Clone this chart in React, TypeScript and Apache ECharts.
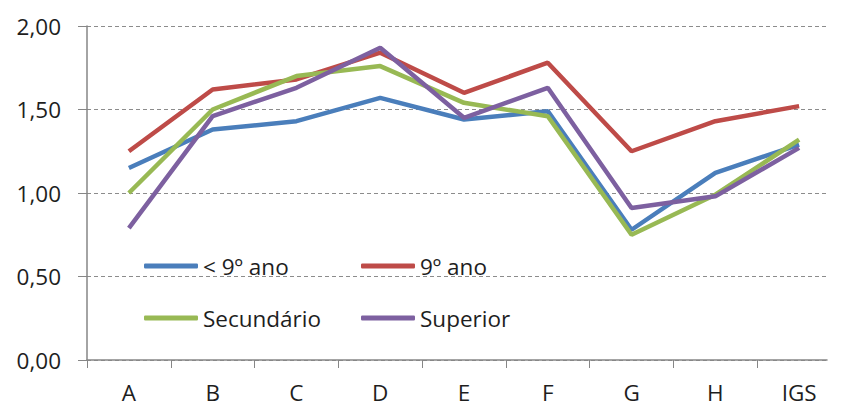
import React, { useEffect, useRef } from "react";
import * as echarts from "echarts";

const categories = ["A", "B", "C", "D", "E", "F", "G", "H", "IGS"];
const seriesNames = ["< 9º ano", "9º ano", "Secundário", "Superior"];
const below9 = [1.15, 1.38, 1.43, 1.57, 1.44, 1.49, 0.78, 1.12, 1.29];
const grade9 = [1.25, 1.62, 1.68, 1.84, 1.60, 1.78, 1.25, 1.43, 1.52];
const secundario = [1.0, 1.5, 1.7, 1.76, 1.54, 1.46, 0.75, 0.99, 1.32];
const superior = [0.79, 1.46, 1.63, 1.87, 1.45, 1.63, 0.91, 0.98, 1.27];
const yTicks = [0, 0.5, 1, 1.5, 2];

const colors = ["#4A7EBB", "#BE4B48", "#98B954", "#7D60A0"];
const FONT = "Open Sans";
const TEXT = "#1e1e1e";
const AXIS = "#868686";
const FS = 22.5;

export default function App() {
  const ref = useRef<HTMLDivElement>(null);
  useEffect(() => {
    if (!ref.current) return;
    const chart = echarts.init(ref.current, undefined, { renderer: "svg" });
    const allData = [below9, grade9, secundario, superior];
    const legendPos = [
      { left: 144, top: 254 },
      { left: 361, top: 254 },
      { left: 144, top: 306 },
      { left: 361, top: 306 },
    ];
    chart.setOption({
      animation: false,
      backgroundColor: "#ffffff",
      textStyle: { fontFamily: FONT },
      grid: [
        { left: 87, top: 26, width: 762, height: 334 },
        { left: 87, top: 26, width: 740, height: 334 },
      ],
      legend: seriesNames.map((n, i) => ({
        data: [n],
        left: legendPos[i].left,
        top: legendPos[i].top,
        padding: 0,
        icon: "roundRect",
        itemWidth: 54,
        itemHeight: 5,
        itemGap: 0,
        textStyle: { fontFamily: FONT, fontSize: FS, color: TEXT, lineHeight: 24 },
      })),
      xAxis: [
        {
          type: "category",
          gridIndex: 0,
          data: categories,
          boundaryGap: true,
          axisLine: { show: false },
          axisTick: { show: true, length: 8, lineStyle: { color: AXIS, width: 1 } },
          axisLabel: { color: TEXT, fontSize: FS, fontFamily: FONT, margin: 21 },
          splitLine: { show: false },
        },
        {
          type: "value",
          gridIndex: 1,
          min: 0,
          max: 1,
          axisLine: { show: true, onZero: false, lineStyle: { color: AXIS, width: 1.5 } },
          axisTick: { show: false },
          axisLabel: { show: false },
          splitLine: { show: false },
        },
      ],
      yAxis: [
        {
          type: "value",
          gridIndex: 0,
          min: 0,
          max: 2,
          interval: 0.5,
          show: false,
        },
        {
          type: "value",
          gridIndex: 1,
          min: 0,
          max: 2,
          interval: 0.5,
          axisLine: { show: true, lineStyle: { color: AXIS, width: 1.5 } },
          axisTick: { show: true, inside: false, length: 9, lineStyle: { color: AXIS, width: 1 } },
          axisLabel: {
            color: TEXT,
            fontSize: FS,
            fontFamily: FONT,
            margin: 26,
            formatter: (v: number) => v.toFixed(2).replace(".", ","),
          },
          splitLine: { show: true, lineStyle: { color: "#8c8c8c", type: [4, 3], width: 1 } },
        },
      ],
      series: seriesNames.map((n, i) => ({
        name: n,
        type: "line",
        xAxisIndex: 0,
        yAxisIndex: 0,
        data: allData[i],
        symbol: "none",
        lineStyle: { color: colors[i], width: 4.5 },
        itemStyle: { color: colors[i] },
      })),
    });
    return () => chart.dispose();
  }, []);
  return (
    <div
      ref={ref}
      style={{ position: "absolute", left: 0, top: 0, width: 841, height: 417 }}
    />
  );
}
